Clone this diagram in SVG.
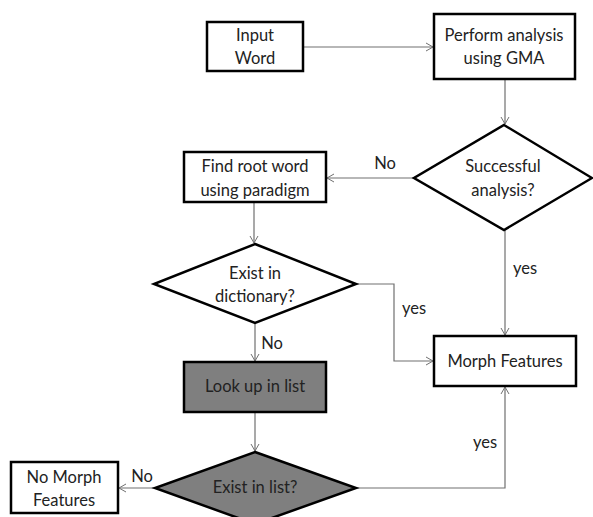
<svg xmlns="http://www.w3.org/2000/svg" width="593" height="517" viewBox="0 0 593 517">
<style>
.box{fill:#fff;stroke:#000;stroke-width:2.5}
.dark{fill:#7f7f7f;stroke:#000;stroke-width:2.5}
.t{font-family:Lato,"Open Sans","Liberation Sans",sans-serif;font-size:16.5px;fill:#222;text-anchor:middle}
.c{fill:none;stroke:#707070;stroke-width:1.2}
</style>
<defs>
<marker id="arr" markerWidth="10" markerHeight="10" refX="8" refY="5" orient="auto" markerUnits="userSpaceOnUse">
<path d="M1,1 L8,5 L1,9" fill="none" stroke="#707070" stroke-width="1"/>
</marker>
</defs>
<rect width="593" height="517" fill="#fff"/>
<g id="connectors">
<line class="c" x1="303" y1="47" x2="433" y2="47" marker-end="url(#arr)"/>
<line class="c" x1="505" y1="79" x2="505" y2="124" marker-end="url(#arr)"/>
<line class="c" x1="414" y1="178" x2="327" y2="178" marker-end="url(#arr)"/>
<line class="c" x1="254" y1="202" x2="254" y2="243" marker-end="url(#arr)"/>
<line class="c" x1="505" y1="230" x2="505" y2="335" marker-end="url(#arr)"/>
<polyline class="c" points="356,284 394,284 394,361 433,361" marker-end="url(#arr)"/>
<line class="c" x1="255" y1="323" x2="255" y2="361" marker-end="url(#arr)"/>
<line class="c" x1="255" y1="412" x2="255" y2="451" marker-end="url(#arr)"/>
<line class="c" x1="155" y1="488" x2="119" y2="488" marker-end="url(#arr)"/>
<polyline class="c" points="356,488 505,488 505,387" marker-end="url(#arr)"/>
</g>
<g id="labels">
<text class="t" x="385" y="169">No</text>
<text class="t" x="525" y="274">yes</text>
<text class="t" x="414" y="314">yes</text>
<text class="t" x="272" y="349">No</text>
<text class="t" x="485" y="448">yes</text>
<text class="t" x="142" y="482">No</text>
</g>
<g id="input-word">
<rect class="box" x="207" y="22" width="96" height="49"/>
<text class="t" x="255" y="41">Input</text>
<text class="t" x="255" y="64">Word</text>
</g>
<g id="perform-analysis">
<rect class="box" x="434" y="14" width="141" height="65"/>
<text class="t" x="504" y="41">Perform analysis</text>
<text class="t" x="504" y="64">using GMA</text>
</g>
<g id="successful-analysis">
<polygon class="box" points="504,125 592,178 504,230 414,178"/>
<text class="t" x="503" y="172">Successful</text>
<text class="t" x="503" y="196">analysis?</text>
</g>
<g id="find-root">
<rect class="box" x="184" y="152" width="142" height="50"/>
<text class="t" x="255" y="172">Find root word</text>
<text class="t" x="255" y="196">using paradigm</text>
</g>
<g id="exist-dictionary">
<polygon class="box" points="255,244 356,284 255,323 154,284"/>
<text class="t" x="255" y="279">Exist in</text>
<text class="t" x="255" y="302">dictionary?</text>
</g>
<g id="morph-features">
<rect class="box" x="434" y="336" width="142" height="50"/>
<text class="t" x="505" y="367">Morph Features</text>
</g>
<g id="look-up">
<rect class="dark" x="184" y="362" width="142" height="50"/>
<text class="t" x="255" y="392">Look up in list</text>
</g>
<g id="exist-list">
<polygon class="dark" points="255,452 356,488 255,524 155,488"/>
<text class="t" x="255" y="493">Exist in list?</text>
</g>
<g id="no-morph">
<rect class="box" x="11" y="462" width="107" height="51"/>
<text class="t" x="64" y="483">No Morph</text>
<text class="t" x="64" y="506">Features</text>
</g>
</svg>
